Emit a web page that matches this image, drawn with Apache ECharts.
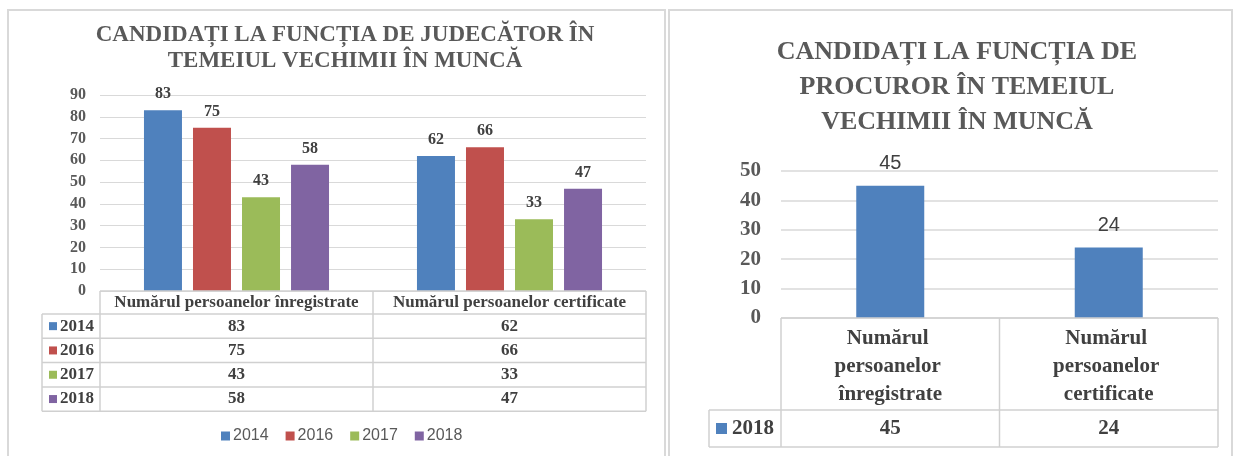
<!DOCTYPE html>
<html><head><meta charset="utf-8">
<script src="https://cdn.jsdelivr.net/npm/echarts@6/dist/echarts.min.js"></script>
<style>
html,body{margin:0;padding:0;background:#fff;width:1234px;height:456px;overflow:hidden;}
#c1{position:absolute;left:0;top:0;width:667px;height:456px;}
#c2{position:absolute;left:667px;top:0;width:567px;height:456px;}
.frame{position:absolute;border:2px solid #d9d9d9;box-sizing:border-box;pointer-events:none;}
</style></head><body>
<div id="c1"></div><div id="c2"></div>
<div class="frame" style="left:7px;top:9px;width:659px;height:470px;"></div>
<div class="frame" style="left:668px;top:9px;width:565px;height:470px;"></div>
<script>
// ---- data: judges ----
const judTitle = 'CANDIDAȚI LA FUNCȚIA DE JUDECĂTOR ÎN\nTEMEIUL VECHIMII ÎN MUNCĂ';
const judCategories = ['Numărul persoanelor înregistrate', 'Numărul persoanelor certificate'];
const judYears = ['2014', '2016', '2017', '2018'];
const jud2014 = [83, 62];
const jud2016 = [75, 66];
const jud2017 = [43, 33];
const jud2018 = [58, 47];
const judYMin = 0, judYMax = 90, judYStep = 10;

// ---- data: prosecutors ----
const procTitle = 'CANDIDAȚI LA FUNCȚIA DE\nPROCUROR ÎN TEMEIUL\nVECHIMII ÎN MUNCĂ';
const procCategories = ['Numărul persoanelor înregistrate', 'Numărul persoanelor certificate'];
const procYears = ['2018'];
const proc2018 = [45, 24];
const procYMin = 0, procYMax = 50, procYStep = 10;

// ---- styles ----
const palette = ['#4F81BD', '#C0504D', '#9BBB59', '#8064A2'];
const SERIF = '"Liberation Serif","Times New Roman",serif';
const SANS = '"Liberation Sans",Arial,sans-serif';
const GRID = '#d9d9d9';

const judSeries = [jud2014, jud2016, jud2017, jud2018];
const procSeries = [proc2018];

function drawTable(chart, rows, st) {
  const xa = chart.convertToPixel({xAxisIndex: 0}, 0);
  const xb = chart.convertToPixel({xAxisIndex: 0}, 1);
  const band = xb - xa;
  const edges = [xa - band / 2, xa + band / 2, xb + band / 2];
  const y0 = chart.convertToPixel({yAxisIndex: 0}, 0);
  const y1 = y0 + st.headerH;
  const yEnd = y1 + rows.length * st.rowH;
  const L = st.keyLeft, R = edges[2];
  const els = [];
  const ln = (xA, yA, xB, yB) => els.push({type: 'line', silent: true, z: 10,
    shape: {x1: xA, y1: yA, x2: xB, y2: yB}, style: {stroke: st.lineColor, lineWidth: st.lineWidth}});
  ln(edges[0], y0, R, y0);
  for (let r = 0; r <= rows.length; r++) ln(L, y1 + r * st.rowH, R, y1 + r * st.rowH);
  ln(L, y1, L, yEnd);
  edges.forEach(x => ln(x, y0, x, yEnd));
  rows.forEach((row, r) => {
    const cy = y1 + (r + 0.5) * st.rowH;
    els.push({type: 'rect', silent: true, z: 10,
      shape: {x: st.iconLeft, y: cy - st.iconSize / 2, width: st.iconSize, height: st.iconSize},
      style: {fill: row.color}});
    els.push({type: 'text', silent: true, z: 10, style: {text: row.name, x: st.textLeft, y: cy,
      align: 'left', verticalAlign: 'middle', fontFamily: SERIF, fontWeight: 'bold',
      fontSize: st.fontSize, fill: st.textColor}});
    row.values.forEach((v, c) => {
      els.push({type: 'text', silent: true, z: 10, style: {text: String(v), x: c === 0 ? xa : xb, y: cy,
        align: 'center', verticalAlign: 'middle', fontFamily: SERIF, fontWeight: 'bold',
        fontSize: st.fontSize, fill: st.textColor}});
    });
  });
  chart.setOption({graphic: {elements: els}});
}

// ---- chart 1 ----
const chart1 = echarts.init(document.getElementById('c1'), null, {renderer: 'canvas'});
chart1.setOption({
  animation: false,
  backgroundColor: '#fff',
  title: {text: judTitle, left: 345, top: 22, textAlign: 'center', padding: 0,
    textStyle: {fontFamily: SERIF, fontWeight: 'bold', fontSize: 23, lineHeight: 26, color: '#595959'}},
  legend: {data: judYears, left: 221, top: 428, padding: 0, icon: 'rect', itemWidth: 9, itemHeight: 9, itemGap: 17,
    textStyle: {fontFamily: SANS, fontSize: 16, color: '#595959', padding: [0, 0, 0, -2]}},
  grid: {left: 100, right: 21, top: 95, bottom: 165},
  xAxis: {type: 'category', data: judCategories,
    axisLine: {show: false}, axisTick: {show: false},
    axisLabel: {margin: 1, interval: 0, fontFamily: SERIF, fontWeight: 'bold', fontSize: 17, lineHeight: 21, color: '#404040'}},
  yAxis: {type: 'value', min: judYMin, max: judYMax, interval: judYStep,
    axisLine: {show: false}, axisTick: {show: false},
    axisLabel: {margin: 14, fontFamily: SERIF, fontWeight: 'bold', fontSize: 16, color: '#595959'},
    splitLine: {lineStyle: {color: GRID, width: 1}}},
  series: judYears.map((y, i) => ({
    name: y, type: 'bar', data: judSeries[i], barWidth: 38, barGap: '29%',
    itemStyle: {color: palette[i]},
    label: {show: true, position: 'top', distance: 8, fontFamily: SERIF, fontWeight: 'bold', fontSize: 16, color: '#404040'}
  }))
});
drawTable(chart1, judYears.map((y, i) => ({name: y, color: palette[i], values: judSeries[i]})), {
  headerH: 23, rowH: 24.3, keyLeft: 42, iconSize: 8, iconLeft: 49, textLeft: 60,
  fontSize: 17, textColor: '#404040', lineColor: '#d0d0d0', lineWidth: 1.5
});

// ---- chart 2 ----
const chart2 = echarts.init(document.getElementById('c2'), null, {renderer: 'canvas'});
chart2.setOption({
  animation: false,
  backgroundColor: '#fff',
  title: {text: procTitle, left: 290, top: 35, textAlign: 'center', padding: 0,
    textStyle: {fontFamily: SERIF, fontWeight: 'bold', fontSize: 26, lineHeight: 35, color: '#595959'}},
  grid: {left: 114, right: 16, top: 171, bottom: 138},
  xAxis: {type: 'category', data: procCategories,
    axisLine: {show: false}, axisTick: {show: false},
    axisLabel: {margin: 7, interval: 0, width: 150, overflow: 'break', fontFamily: SERIF, fontWeight: 'bold',
      fontSize: 21, lineHeight: 28, color: '#404040'}},
  yAxis: {type: 'value', min: procYMin, max: procYMax, interval: procYStep,
    axisLine: {show: false}, axisTick: {show: false},
    axisLabel: {margin: 20, fontFamily: SERIF, fontWeight: 'bold', fontSize: 21, color: '#595959'},
    splitLine: {lineStyle: {color: GRID, width: 1.5}}},
  series: procYears.map((y, i) => ({
    name: y, type: 'bar', data: procSeries[i], barWidth: 68,
    itemStyle: {color: palette[i]},
    label: {show: true, position: 'top', distance: 12, fontFamily: SANS, fontSize: 20, color: '#404040'}
  }))
});
drawTable(chart2, procYears.map((y, i) => ({name: y, color: palette[i], values: procSeries[i]})), {
  headerH: 92, rowH: 37, keyLeft: 42, iconSize: 11, iconLeft: 49, textLeft: 65,
  fontSize: 21, textColor: '#404040', lineColor: '#d0d0d0', lineWidth: 1.5
});
</script>
</body></html>
